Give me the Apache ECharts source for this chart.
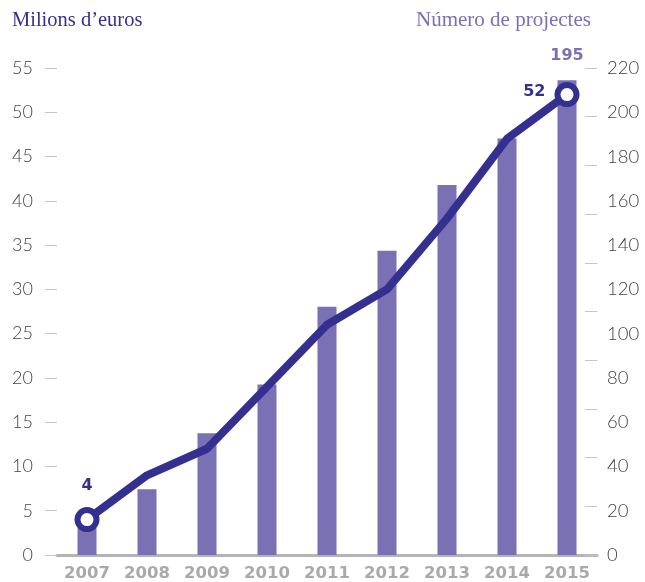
<!DOCTYPE html>
<html>
<head>
<meta charset="utf-8">
<script src="https://cdn.jsdelivr.net/npm/echarts@6/dist/echarts.min.js"></script>
<style>
	html, body { margin: 0; padding: 0; background: #fff; }
	#chart { width: 645px; height: 582px; }
</style>
</head>
<body>
<div id="chart"></div>
<script>
const years = ['2007', '2008', '2009', '2010', '2011', '2012', '2013', '2014', '2015']
// milions d'euros (eix esquerre)
const milions = [4, 9, 12, 19, 26, 30, 38, 47, 52]
// nombre de projectes (barres)
const projectes = [11, 27, 50, 70, 102, 125, 152, 171, 195]
const leftTicks = { min: 0, max: 55, interval: 5 }
const rightTicks = { min: 0, max: 200, interval: 20 }
const rightLabels = { min: 0, max: 220, interval: 20 }

const dark = '#35308f'
const lilac = '#7a70b4'
const grey = '#a9a9ab'

const lineData = milions.map((v, i) => {
	const last = i === milions.length - 1
	if (i !== 0 && !last) return { value: v, symbol: 'none' }
	return {
		value: v,
		symbol: 'circle',
		symbolSize: 19,
		itemStyle: { color: '#fff', borderColor: dark, borderWidth: 6 },
		label: {
			show: true,
			position: last ? 'left' : 'top',
			distance: last ? 9 : 13,
			offset: last ? [0, -3] : [0, 0]
		}
	}
})

const barData = projectes.map((v, i) => {
	if (i !== projectes.length - 1) return v
	return { value: v, label: { show: true, position: 'top', distance: 16 } }
})

const numFont = { fontFamily: 'DejaVu Sans', fontWeight: 'bold', fontSize: 16 }

const chart = echarts.init(document.getElementById('chart'), null, { renderer: 'canvas' })
chart.setOption({
	animation: false,
	title: [
		{
			text: 'Milions d\u2019euros',
			left: 7, top: 5,
			textStyle: { fontFamily: 'Liberation Serif', fontWeight: 'normal', fontSize: 20.5, color: dark }
		},
		{
			text: 'Número de projectes',
			left: 411, top: 5,
			textStyle: { fontFamily: 'Liberation Serif', fontWeight: 'normal', fontSize: 21, color: lilac }
		}
	],
	grid: { left: 57, right: 48, top: 68, bottom: 27, containLabel: false },
	xAxis: {
		type: 'category',
		data: years,
		boundaryGap: true,
		axisTick: { show: false },
		axisLine: { lineStyle: { color: '#b4b4b6', width: 3 } },
		axisLabel: { margin: 10, color: grey, fontFamily: 'DejaVu Sans', fontWeight: 'bold', fontSize: 16.5 }
	},
	yAxis: [
		{
			type: 'value',
			position: 'left',
			...leftTicks,
			splitLine: { show: false },
			axisLine: { show: false },
			axisTick: { show: true, inside: false, length: 12, lineStyle: { color: '#c4c4c4', width: 1 } },
			axisLabel: { margin: 24, color: '#444', fontFamily: 'Lato', fontWeight: 300, fontSize: 18 }
		},
		{
			type: 'value',
			position: 'right',
			offset: 0,
			...rightTicks,
			splitLine: { show: false },
			axisLine: { show: false },
			axisTick: { show: true, inside: true, length: 12, lineStyle: { color: '#c4c4c4', width: 1 } },
			axisLabel: { show: false }
		},
		{
			type: 'value',
			position: 'right',
			offset: 0,
			...rightLabels,
			splitLine: { show: false },
			axisLine: { show: false },
			axisTick: { show: false },
			axisLabel: { margin: 10, color: '#444', fontFamily: 'Lato', fontWeight: 300, fontSize: 18.5 }
		}
	],
	series: [
		{
			type: 'bar',
			name: 'Projectes',
			yAxisIndex: 1,
			data: barData,
			barWidth: 19,
			itemStyle: { color: lilac },
			label: { color: lilac, ...numFont },
			z: 1
		},
		{
			type: 'line',
			name: 'Milions',
			yAxisIndex: 0,
			data: lineData,
			symbol: 'none',
			lineStyle: { color: dark, width: 8, cap: 'round', join: 'round' },
			itemStyle: { color: dark },
			label: { color: dark, ...numFont },
			z: 3
		}
	]
})
</script>
</body>
</html>
